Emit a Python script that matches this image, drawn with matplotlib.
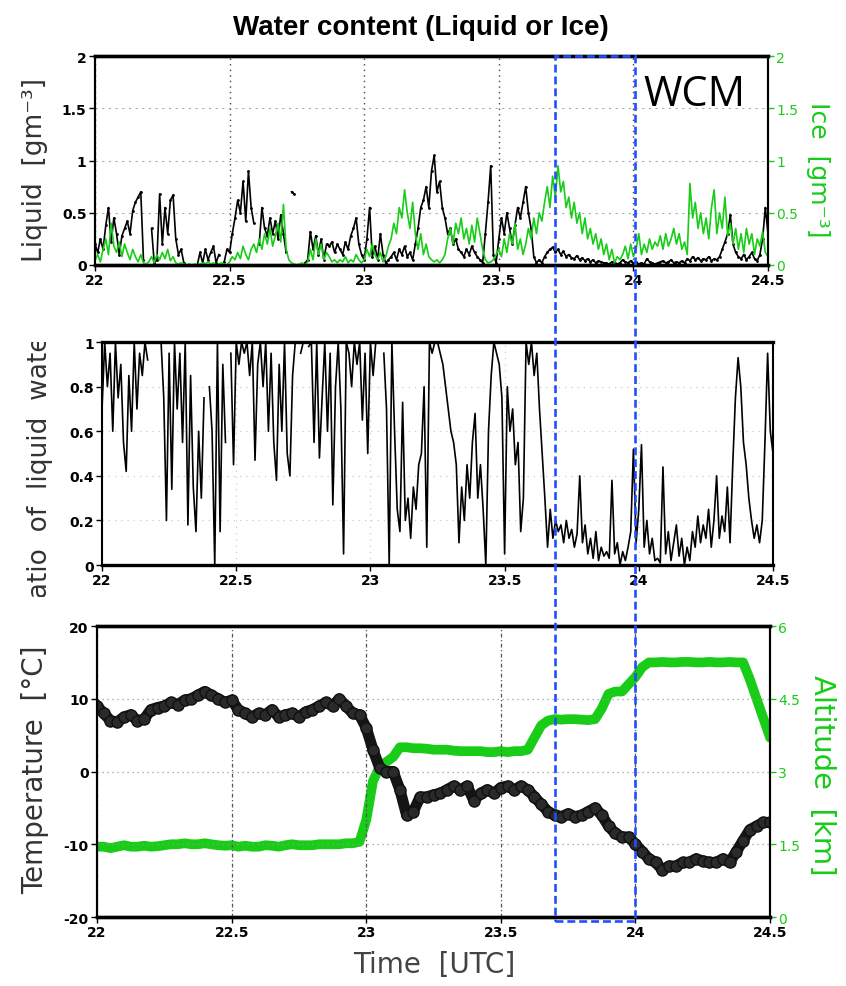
"""
Water content (liquid / ice), liquid-water ratio and temperature / altitude
along the flight track, 22-24.5 UTC, with the WCM segment boxed.
"""

import matplotlib

matplotlib.use("Agg")

import matplotlib.pyplot as plt
import numpy as np
from matplotlib.patches import Rectangle
from matplotlib.transforms import Bbox, TransformedBbox

nan = np.nan

OUT_PATH = "out.png"

GREEN = "#18cc18"
BLUE = "#1f4fff"
LABEL_GREY = "#333333"

# ---- data ---------------------------------------------------------------
# 0.01 h samples, 22.00 .. 24.50 UTC
time_fine = np.linspace(22.0, 24.5, 251)

liquid = [
    0.20, 0.12, 0.25, 0.15, 0.38, 0.55, 0.22, 0.45, 0.30, 0.10,
    0.28, 0.35, 0.42, 0.30, 0.52, 0.60, 0.65, 0.70, 0.05, nan,
    nan, 0.35, 0.02, 0.05, 0.68, 0.20, 0.55, 0.30, 0.62, 0.67,
    0.25, 0.10, 0.15, 0.02, nan, nan, nan, nan, 0.00, 0.12,
    0.02, 0.15, 0.05, 0.12, 0.18, 0.02, 0.10, nan, 0.03, 0.15,
    0.12, 0.30, 0.45, 0.62, 0.50, 0.80, 0.42, 0.90, 0.55, 0.40,
    nan, 0.20, 0.55, 0.35, 0.28, 0.45, 0.30, 0.42, 0.25, 0.48,
    0.30, 0.12, nan, 0.70, 0.68, nan, nan, nan, 0.02, 0.05,
    0.32, 0.15, 0.28, 0.10, 0.25, 0.05, 0.20, 0.18, 0.22, 0.12,
    0.20, 0.15, 0.10, 0.22, 0.15, 0.28, 0.35, 0.45, 0.20, 0.10,
    0.05, 0.25, 0.55, 0.08, 0.18, 0.05, 0.30, 0.10, 0.02, 0.05,
    0.08, 0.12, 0.05, 0.15, 0.10, 0.18, 0.08, 0.12, 0.05, 0.20,
    0.35, 0.55, 0.62, 0.75, 0.55, 0.90, 1.05, 0.70, 0.80, 0.55,
    0.45, 0.30, 0.35, 0.20, 0.25, 0.15, 0.12, 0.08, 0.15, 0.10,
    0.18, 0.12, 0.08, 0.05, 0.02, 0.30, 0.60, 0.95, 0.10, 0.02,
    0.25, 0.45, 0.30, 0.50, 0.35, 0.20, 0.38, 0.55, 0.45, 0.60,
    0.75, 0.50, 0.35, 0.08, 0.02, 0.05, 0.02, 0.08, 0.12, 0.15,
    0.17, 0.12, 0.15, 0.10, 0.13, 0.08, 0.10, 0.07, 0.06, 0.09,
    0.05, 0.07, 0.04, 0.06, 0.03, 0.05, 0.02, 0.04, 0.03, 0.02,
    0.02, 0.01, 0.03, 0.02, 0.01, 0.02, 0.05, 0.03, 0.02, 0.04,
    0.02, 0.03, 0.01, 0.02, 0.01, 0.06, 0.03, 0.02, 0.01, 0.02,
    0.03, 0.04, 0.02, 0.03, 0.05, 0.02, 0.03, 0.02, 0.04, 0.02,
    0.06, 0.04, 0.08, 0.05, 0.07, 0.04, 0.06, 0.05, 0.08, 0.04,
    0.06, 0.05, 0.08, 0.15, 0.22, 0.30, 0.48, 0.20, 0.12, 0.08,
    0.06, 0.10, 0.05, 0.08, 0.12, 0.06, 0.04, 0.10, 0.25, 0.55, 0.30,
]

ice = [
    0.05, 0.10, 0.03, 0.15, 0.25, 0.10, 0.40, 0.18, 0.12, 0.22,
    0.08, 0.20, 0.12, 0.05, 0.15, 0.08, 0.03, 0.10, 0.02, 0.01,
    0.03, 0.08, 0.02, 0.10, 0.05, 0.12, 0.06, 0.15, 0.04, 0.08,
    0.02, 0.01, 0.02, 0.01, 0.00, 0.01, 0.00, 0.01, 0.00, 0.01,
    0.02, 0.01, 0.03, 0.01, 0.02, 0.00, 0.01, 0.02, 0.01, 0.00,
    0.03, 0.08, 0.05, 0.12, 0.06, 0.18, 0.10, 0.05, 0.15, 0.20,
    0.12, 0.25, 0.15, 0.30, 0.20, 0.35, 0.18, 0.28, 0.40, 0.22,
    0.58, 0.15, 0.05, 0.02, 0.01, 0.00, 0.01, 0.02, 0.00, 0.03,
    0.15, 0.05, 0.25, 0.10, 0.20, 0.05, 0.12, 0.08, 0.03, 0.05,
    0.02, 0.05, 0.03, 0.08, 0.02, 0.05, 0.03, 0.10, 0.05, 0.02,
    0.05, 0.15, 0.08, 0.20, 0.10, 0.05, 0.12, 0.03, 0.08, 0.18,
    0.25, 0.40, 0.30, 0.55, 0.45, 0.72, 0.50, 0.35, 0.60, 0.30,
    0.15, 0.30, 0.10, 0.20, 0.08, 0.05, 0.03, 0.05, 0.02, 0.05,
    0.10, 0.25, 0.35, 0.20, 0.40, 0.30, 0.45, 0.25, 0.35, 0.20,
    0.38, 0.22, 0.45, 0.30, 0.15, 0.05, 0.02, 0.03, 0.05, 0.10,
    0.15, 0.08, 0.25, 0.12, 0.30, 0.20, 0.40, 0.15, 0.25, 0.10,
    0.20, 0.35, 0.25, 0.45, 0.30, 0.50, 0.42, 0.60, 0.75, 0.55,
    0.85, 0.65, 0.95, 0.70, 0.80, 0.55, 0.65, 0.45, 0.60, 0.40,
    0.50, 0.30, 0.45, 0.25, 0.35, 0.20, 0.30, 0.15, 0.25, 0.10,
    0.20, 0.05, 0.15, 0.02, 0.08, 0.05, 0.10, 0.18, 0.06, 0.20,
    0.08, 0.15, 0.30, 0.10, 0.20, 0.12, 0.25, 0.15, 0.22, 0.18,
    0.28, 0.15, 0.30, 0.18, 0.25, 0.35, 0.20, 0.30, 0.15, 0.22,
    0.10, 0.78, 0.45, 0.60, 0.35, 0.50, 0.30, 0.45, 0.25, 0.55,
    0.72, 0.30, 0.50, 0.35, 0.65, 0.28, 0.40, 0.20, 0.35, 0.15,
    0.30, 0.12, 0.35, 0.20, 0.30, 0.10, 0.25, 0.18, 0.32, 0.12, 0.08,
]

liquid_ratio = [
    0.70, 1.00, 0.80, 0.95, 0.60, 1.00, 0.75, 0.90, 0.55, 0.42,
    0.85, 0.60, 1.00, 0.70, 0.95, 0.85, 1.00, 0.92, nan, nan,
    nan, nan, 1.00, 0.75, 0.20, 0.95, 0.34, 1.00, 0.70, 0.95,
    0.55, 1.00, 0.18, 0.85, 0.35, 0.15, 0.60, 0.30, 0.75, nan,
    0.80, 0.60, 0.00, 1.00, 0.15, 0.90, 0.55, nan, 0.95, 0.45,
    1.00, 0.90, 1.00, 0.95, 1.00, 0.85, 1.00, 0.47, 0.90, 1.00,
    0.80, 1.00, 0.60, 0.95, 0.55, 0.38, 0.90, 0.60, 1.00, 0.50,
    0.40, 0.85, 1.00, nan, 0.95, 1.00, nan, 0.98, 1.00, 0.55,
    1.00, 0.48, 0.75, 1.00, 0.60, 0.95, 0.27, 0.80, 1.00, 0.70,
    0.05, 1.00, 0.95, 0.80, 1.00, 0.90, 1.00, 0.65, 0.95, 0.50,
    1.00, 0.85, 1.00, nan, nan, 0.95, 0.70, 0.00, 1.00, 0.60,
    0.25, 0.15, 0.73, 0.20, 0.30, 0.12, 0.35, 0.25, 0.45, 0.50,
    0.80, 0.08, 1.00, 0.95, 1.00, 1.00, 0.95, 0.90, 0.80, 0.70,
    0.60, 0.55, 0.45, 0.10, 0.35, 0.20, 0.45, 0.30, 0.55, 0.68,
    0.30, 0.45, 0.25, 0.00, 0.60, 0.85, 1.00, 0.95, 0.90, 0.75,
    0.05, 0.80, 0.60, 0.70, 0.45, 0.55, 0.15, 0.30, 1.00, 0.90,
    1.00, 0.85, 0.95, 0.70, 0.50, 0.30, 0.08, 0.25, 0.12, 0.20,
    0.15, 0.18, 0.10, 0.20, 0.12, 0.16, 0.08, 0.14, 0.40, 0.10,
    0.18, 0.05, 0.12, 0.03, 0.15, 0.02, 0.08, 0.04, 0.06, 0.03,
    0.38, 0.05, 0.10, 0.00, 0.06, 0.02, 0.08, 0.15, 0.52, 0.10,
    0.25, 0.54, 0.08, 0.20, 0.05, 0.12, 0.02, 0.03, 0.01, 0.44,
    0.05, 0.15, 0.02, 0.10, 0.18, 0.04, 0.12, 0.00, 0.08, 0.02,
    0.15, 0.08, 0.22, 0.10, 0.18, 0.12, 0.25, 0.08, 0.20, 0.40,
    0.12, 0.22, 0.15, 0.35, 0.10, 0.45, 0.75, 0.93, 0.80, 0.55,
    0.45, 0.30, 0.20, 0.12, 0.18, 0.10, 0.20, 0.55, 0.95, 0.60, 0.50,
]

# 0.025 h samples, 22.000 .. 24.500 UTC
time_coarse = np.linspace(22.0, 24.5, 101)

temperature = [
    9.0, 8.0, 7.0, 6.8, 7.5, 7.8, 7.0, 7.2,
    8.5, 8.8, 9.0, 9.5, 9.2, 9.8, 10.0, 10.5,
    11.0, 10.5, 10.0, 9.5, 9.8, 8.5, 8.0, 7.5,
    8.0, 7.8, 8.5, 7.5, 7.8, 8.0, 7.5, 8.2,
    8.5, 9.0, 9.5, 9.0, 10.0, 9.0, 8.0, 7.8,
    6.0, 3.0, 0.5, 0.0, 0.0, -2.5, -6.0, -5.5,
    -3.5, -3.5, -3.2, -3.0, -2.5, -2.0, -2.5, -2.0,
    -4.0, -3.0, -2.5, -3.0, -2.2, -2.0, -2.5, -2.0,
    -2.5, -3.5, -4.5, -5.5, -6.0, -6.2, -5.8, -6.2,
    -6.0, -5.5, -5.0, -6.0, -7.5, -8.5, -9.0, -9.0,
    -10.0, -11.0, -12.0, -12.5, -13.5, -13.0, -13.0, -12.5,
    -12.5, -12.0, -12.3, -12.5, -12.5, -12.0, -12.5, -11.0,
    -9.5, -8.0, -7.5, -7.0, -7.0,
]

altitude = [
    1.45, 1.45, 1.42, 1.45, 1.48, 1.45, 1.45, 1.47,
    1.45, 1.46, 1.48, 1.50, 1.50, 1.52, 1.50, 1.50,
    1.52, 1.50, 1.48, 1.47, 1.48, 1.45, 1.47, 1.45,
    1.45, 1.48, 1.47, 1.45, 1.48, 1.50, 1.48, 1.48,
    1.48, 1.50, 1.50, 1.50, 1.50, 1.52, 1.52, 1.55,
    2.00, 2.80, 3.10, 3.20, 3.30, 3.50, 3.50, 3.48,
    3.48, 3.47, 3.45, 3.45, 3.45, 3.43, 3.42, 3.42,
    3.42, 3.42, 3.40, 3.40, 3.42, 3.40, 3.42, 3.42,
    3.45, 3.70, 3.95, 4.05, 4.08, 4.07, 4.08, 4.08,
    4.07, 4.06, 4.08, 4.30, 4.60, 4.65, 4.65, 4.80,
    4.95, 5.15, 5.25, 5.25, 5.26, 5.25, 5.25, 5.26,
    5.26, 5.25, 5.25, 5.26, 5.25, 5.25, 5.26, 5.25,
    5.25, 4.90, 4.50, 4.10, 3.70,
]

x_ticks = [22, 22.5, 23, 23.5, 24, 24.5]
x_tick_labels = ["22", "22.5", "23", "23.5", "24", "24.5"]
wc_ticks = [0, 0.5, 1, 1.5, 2]
wc_tick_labels = ["0", "0.5", "1", "1.5", "2"]
ratio_ticks = [0, 0.2, 0.4, 0.6, 0.8, 1]
ratio_tick_labels = ["0", "0.2", "0.4", "0.6", "0.8", "1"]
temp_ticks = [-20, -10, 0, 10, 20]
temp_tick_labels = ["-20", "-10", "0", "10", "20"]
alt_ticks = [0, 1.5, 3, 4.5, 6]
alt_tick_labels = ["0", "1.5", "3", "4.5", "6"]

wcm_start, wcm_end = 23.7, 24.0

TICK_FAMILY = ["Liberation Sans Narrow", "DejaVu Sans"]
LABEL_FONT = ["DejaVu Sans"]


def style_ticks(ax, bold=True):
    ax.set_xlim(22, 24.5)
    ax.set_xticks(x_ticks)
    ax.set_xticklabels(x_tick_labels)
    ax.tick_params(direction="out", length=4, width=1, pad=2)
    for lbl in ax.get_xticklabels() + ax.get_yticklabels():
        lbl.set_fontfamily(TICK_FAMILY)
        lbl.set_fontweight("bold" if bold else "normal")
        lbl.set_fontsize(10)
    for side in ("top", "bottom"):
        ax.spines[side].set_linewidth(2.4)
    for side in ("left", "right"):
        ax.spines[side].set_linewidth(1.5)


def main() -> None:
    fig = plt.figure(figsize=(8.46, 9.87), dpi=100)

    # ---- panel 1: liquid / ice water content ------------------------------
    ax1 = fig.add_axes([0.1123, 0.7305, 0.7955, 0.2117])
    ax1.plot(time_fine, liquid, color="black", lw=1.2, marker=".", ms=2)
    ax1.set_ylim(0, 2)
    ax1.set_yticks(wc_ticks)
    ax1.set_yticklabels(wc_tick_labels)
    ax1.grid(axis="x", color="#444444", ls=(0, (1, 3)), lw=1)
    ax1.grid(axis="y", color="#aaaaaa", ls=(0, (2, 4)), lw=0.8)
    style_ticks(ax1)

    ax1r = ax1.twinx()
    ax1r.plot(time_fine, ice, color=GREEN, lw=1.2)
    ax1r.set_ylim(0, 2)
    ax1r.set_yticks(wc_ticks)
    ax1r.set_yticklabels(wc_tick_labels)
    style_ticks(ax1r)
    ax1r.tick_params(axis="y", colors=GREEN)
    for lbl in ax1r.get_yticklabels():
        lbl.set_fontweight("normal")

    # ---- panel 2: ratio of liquid water ------------------------------------
    ax2 = fig.add_axes([0.1206, 0.4265, 0.7931, 0.2259])
    ax2.plot(time_fine, liquid_ratio, color="black", lw=1.2)
    ax2.set_ylim(0, 1)
    ax2.set_yticks(ratio_ticks)
    ax2.set_yticklabels(ratio_tick_labels)
    ax2.grid(color="#cccccc", ls=(0, (1, 4)), lw=0.9)
    style_ticks(ax2)

    # ---- panel 3: temperature / altitude -----------------------------------
    ax3 = fig.add_axes([0.1147, 0.0699, 0.7955, 0.2948])
    ax3.plot(time_coarse, temperature, color="#151515", lw=8, marker="o",
             ms=8, mfc="#2a2a2a", mec="#111111", mew=1)
    ax3.set_ylim(-20, 20)
    ax3.set_yticks(temp_ticks)
    ax3.set_yticklabels(temp_tick_labels)
    ax3.grid(axis="x", color="#555555", ls=(0, (3, 2, 1, 2)), lw=0.9)
    ax3.grid(axis="y", color="#999999", ls=(0, (1, 3)), lw=0.9)
    style_ticks(ax3)

    ax3r = ax3.twinx()
    ax3r.plot(time_coarse, altitude, color=GREEN, lw=7, solid_capstyle="round")
    ax3r.set_ylim(0, 6)
    ax3r.set_yticks(alt_ticks)
    ax3r.set_yticklabels(alt_tick_labels)
    style_ticks(ax3r)
    ax3r.tick_params(axis="y", colors=GREEN)
    for lbl in ax3r.get_yticklabels():
        lbl.set_fontweight("normal")
    ax3.set_zorder(ax3r.get_zorder() + 1)
    ax3.patch.set_visible(False)

    # ---- texts ---------------------------------------------------------------
    fig.text(0.497, 1 - 28 / 987, "Water content (Liquid or Ice)", ha="center",
             va="center", fontsize=20, fontweight="bold",
             family=["Liberation Sans", "DejaVu Sans"])
    fig.text(643 / 846, 1 - 95 / 987, "WCM", ha="left", va="center",
             fontsize=30, family=["Open Sans", "DejaVu Sans"])

    fig.text(35 / 846, 1 - 170 / 987, "Liquid  [gm\u207b\u00b3]", rotation=90,
             ha="center", va="center", fontsize=19, color=LABEL_GREY,
             family=LABEL_FONT)
    fig.text(818 / 846, 1 - 170 / 987, "Ice  [gm\u207b\u00b3]", rotation=270,
             ha="center", va="center", fontsize=18, color=GREEN,
             family=LABEL_FONT)

    ratio_label = fig.text(40 / 846, 1 - 470 / 987, "Ratio  of  liquid  water",
                           rotation=90, ha="center", va="center", fontsize=19,
                           color=LABEL_GREY, family=LABEL_FONT)
    clip = TransformedBbox(Bbox([[0, 1 - 598 / 987], [1, 1 - 343 / 987]]),
                           fig.transFigure)
    ratio_label.set_clip_box(clip)
    ratio_label.set_clip_on(True)

    fig.text(35 / 846, 1 - 770 / 987, "Temperature  [\u00b0C]", rotation=90,
             ha="center", va="center", fontsize=20, color=LABEL_GREY,
             family=LABEL_FONT)
    fig.text(822 / 846, 1 - 775 / 987, "Altitude  [km]", rotation=270,
             ha="center", va="center", fontsize=21, color=GREEN,
             family=LABEL_FONT)
    fig.text(434 / 846, 1 - 965 / 987, "Time  [UTC]", ha="center", va="center",
             fontsize=20, color="#444444", family=LABEL_FONT)

    # ---- WCM box spanning all panels ---------------------------------------
    p1 = ax1.get_position()
    p3 = ax3.get_position()
    x0 = p3.x0 + (wcm_start - 22) / 2.5 * p3.width
    x1 = p3.x0 + (wcm_end - 22) / 2.5 * p3.width
    y0 = p3.y0 - 4 / 987
    y1 = p1.y1
    fig.add_artist(Rectangle((x0, y0), x1 - x0, y1 - y0,
                             transform=fig.transFigure, fill=False, ec=BLUE,
                             lw=1.9, ls=(0, (3, 1.5)), zorder=20))

    fig.savefig(OUT_PATH, dpi=100)
    plt.close(fig)


if __name__ == "__main__":
    main()
